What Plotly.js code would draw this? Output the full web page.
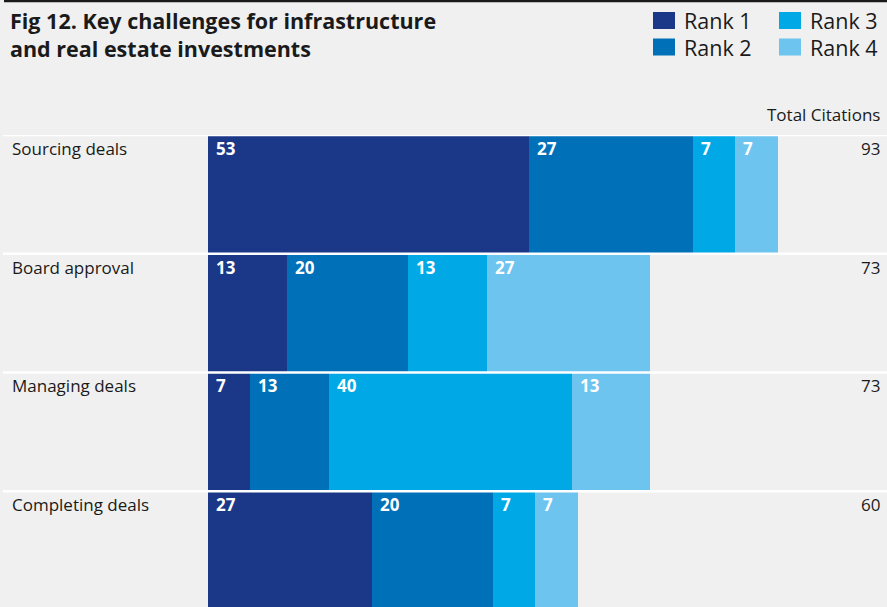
<!DOCTYPE html>
<html>
<head>
<meta charset="utf-8">
<script src="https://cdn.plot.ly/plotly-3.0.1.min.js"></script>
<style>html,body{margin:0;padding:0;background:#f0f0f0;}</style>
</head>
<body>
<div id="chart" style="width:887px;height:607px;"></div>
<script>
// ---- Data ----
const categories = ["Sourcing deals", "Board approval", "Managing deals", "Completing deals"];
const seriesNames = ["Rank 1", "Rank 2", "Rank 3", "Rank 4"];
const rank1 = [53, 13, 7, 27];
const rank2 = [27, 20, 13, 20];
const rank3 = [7, 13, 40, 7];
const rank4 = [7, 27, 13, 7];
const totals = [93, 73, 73, 60];
const totalHeader = "Total Citations";
const titleText = "Fig 12. Key challenges for infrastructure<br>and real estate investments";

// ---- Style ----
const colors = ["#1b3888", "#0071b8", "#00a9e5", "#6dc4ef"];
const bg = "#f0f0f0";
const ink = "#1a1a1a";
const W = 887, H = 607;
const px = v => v / W;
const py = v => 1 - v / H;
const font = "'Open Sans', Lato, sans-serif";

const series = [rank1, rank2, rank3, rank4];
const traces = series.map((vals, k) => ({
  type: "bar",
  orientation: "h",
  name: seriesNames[k],
  x: vals,
  y: categories,
  marker: {color: colors[k], line: {width: 0}},
  hoverinfo: "skip",
  showlegend: false
}));

const annotations = [];
const shapes = [];

categories.forEach((cat, i) => {
  let start = 0;
  series.forEach((vals, k) => {
    annotations.push({
      x: start, y: i - 0.5, xref: "x", yref: "y",
      xanchor: "left", yanchor: "top", xshift: 6, yshift: 0,
      text: "<b>" + vals[i] + "</b>", showarrow: false,
      font: {family: font, size: 17, color: "#ffffff"}
    });
    start += vals[i];
  });
  annotations.push({
    x: px(10), y: i - 0.5, xref: "paper", yref: "y",
    xanchor: "left", yanchor: "top", yshift: 0,
    text: cat, showarrow: false,
    font: {family: font, size: 17, color: ink}
  });
  annotations.push({
    x: px(882), y: i - 0.5, xref: "paper", yref: "y",
    xanchor: "right", yanchor: "top", yshift: 0,
    text: String(totals[i]), showarrow: false,
    font: {family: font, size: 17, color: ink}
  });
});

annotations.push({
  x: px(882), y: py(115), xref: "paper", yref: "paper",
  xanchor: "right", yanchor: "middle",
  text: totalHeader, showarrow: false,
  font: {family: font, size: 17, color: ink}
});

[-0.5, 0.5, 1.5, 2.5].forEach(yv => {
  shapes.push({type: "line", xref: "paper", yref: "y", x0: px(3), x1: 1, y0: yv, y1: yv,
    line: {color: "#ffffff", width: 2.5}, layer: "above"});
});
shapes.push({type: "line", xref: "paper", yref: "paper", x0: px(4), x1: 1, y0: py(1), y1: py(1),
  line: {color: ink, width: 2.5}});

const legPos = [[653, 20.5], [653, 47], [779, 20.5], [779, 47]];
seriesNames.forEach((nm, k) => {
  const [lx, ly] = legPos[k];
  shapes.push({type: "rect", xref: "paper", yref: "paper",
    x0: px(lx), x1: px(lx + 22), y0: py(ly - 8.5), y1: py(ly + 8.5),
    fillcolor: colors[k], line: {width: 0}});
  annotations.push({
    x: px(lx + 29), y: py(ly), xref: "paper", yref: "paper",
    xanchor: "left", yanchor: "middle", text: nm, showarrow: false,
    font: {family: font, size: 21.5, color: ink}
  });
});

const layout = {
  width: W, height: H, autosize: false,
  margin: {l: 0, r: 0, t: 0, b: 0, pad: 0},
  paper_bgcolor: bg, plot_bgcolor: bg,
  barmode: "stack", bargap: 0,
  title: {
    text: "<b>" + titleText + "</b>",
    xref: "container", yref: "container",
    x: px(10), xanchor: "left", y: py(29), yanchor: "middle",
    font: {family: font, size: 21.5, color: ink}
  },
  xaxis: {domain: [px(208), px(881)], range: [0, 111.06], showgrid: false, zeroline: false,
    showticklabels: false, showline: false, fixedrange: true},
  yaxis: {domain: [0, (H - 135) / H], type: "category", categoryarray: categories,
    range: [3.476, -0.5], showgrid: false, zeroline: false, showticklabels: false,
    showline: false, fixedrange: true},
  annotations: annotations,
  shapes: shapes,
  showlegend: false
};

Plotly.newPlot("chart", traces, layout, {displayModeBar: false, staticPlot: true});
</script>
</body>
</html>
